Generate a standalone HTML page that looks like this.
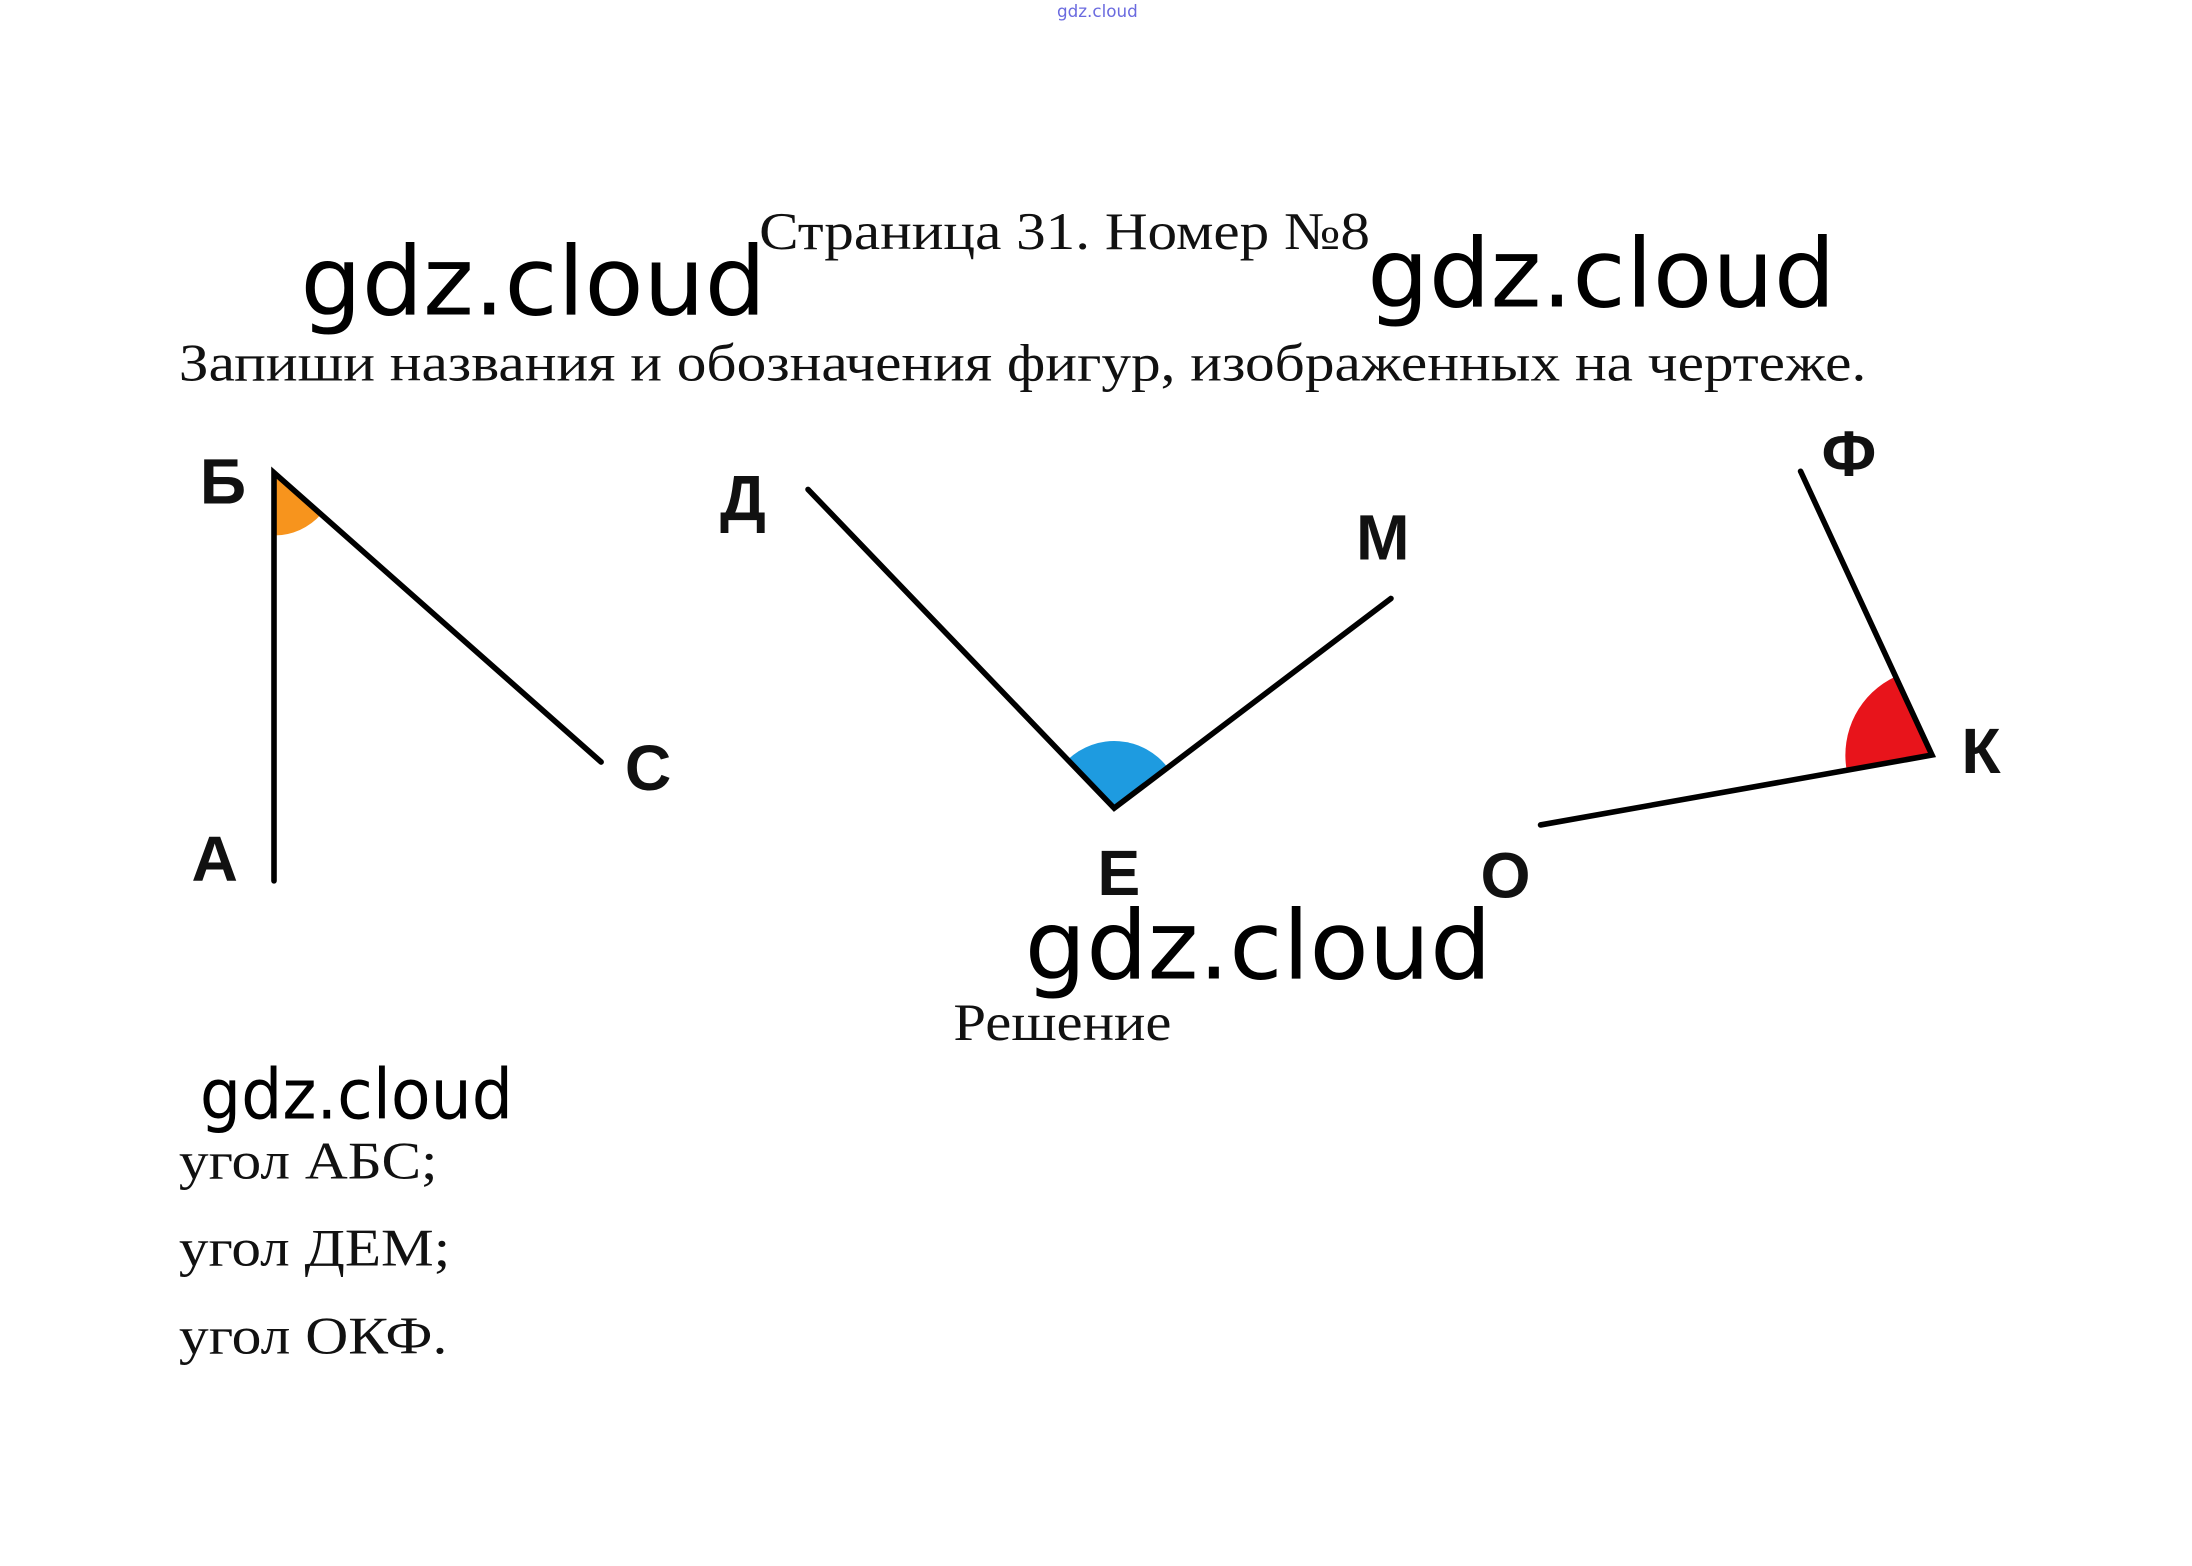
<!DOCTYPE html>
<html><head><meta charset="utf-8"><style>
html,body{margin:0;padding:0;background:#fff;}
svg{display:block;}
.s{font-family:"Liberation Serif",serif;font-size:38px;fill:#111;}
.g{font-family:"DejaVu Sans","Liberation Sans",sans-serif;fill:#000;}
.l{font-family:"Liberation Sans",sans-serif;font-weight:bold;font-size:46px;fill:#111;}
</style></head><body>
<svg width="2192" height="1566" viewBox="0 0 1568 1120" xmlns="http://www.w3.org/2000/svg">
<rect width="1568" height="1120" fill="#fff"/>
<text x="785" y="12" class="g" font-size="12" style="fill:#6a6adf" text-anchor="middle">gdz.cloud</text>
<text x="543" y="178" class="s" textLength="437" lengthAdjust="spacingAndGlyphs">Страница 31. Номер №8</text>
<text x="215" y="225" class="g" font-size="68" textLength="333" lengthAdjust="spacingAndGlyphs">gdz.cloud</text>
<text x="978" y="219" class="g" font-size="68" textLength="335" lengthAdjust="spacingAndGlyphs">gdz.cloud</text>
<text x="128" y="272" class="s" textLength="1207" lengthAdjust="spacingAndGlyphs">Запиши названия и обозначения фигур, изображенных на чертеже.</text>
<path d="M196,338 L229.7,367.8 A45 45 0 0 1 196,383 Z" fill="#f7941d"/>
<path d="M797,578 L763.7,543.4 A48 48 0 0 1 835.3,549 Z" fill="#1e9be0"/>
<path d="M1382,540 L1321,550.9 A62 62 0 0 1 1356,483.8 Z" fill="#e8141b"/>
<g stroke="#000" stroke-width="4" fill="none" stroke-linecap="round">
<polyline points="196,630 196,338 430,545"/>
<polyline points="578,350 797,578 995,428"/>
<polyline points="1288,337 1382,540 1102,590"/>
</g>
<text x="143" y="360" class="l">Б</text>
<text x="515" y="372" class="l">Д</text>
<text x="970" y="400" class="l">М</text>
<text x="447" y="565" class="l">С</text>
<text x="137" y="630" class="l">А</text>
<text x="785" y="640" class="l">Е</text>
<text x="1303" y="340" class="l">Ф</text>
<text x="1403" y="553" class="l">К</text>
<text x="1059" y="642" class="l">О</text>
<text x="733" y="700" class="g" font-size="68" textLength="334" lengthAdjust="spacingAndGlyphs">gdz.cloud</text>
<text x="682" y="744" class="s" textLength="156" lengthAdjust="spacingAndGlyphs">Решение</text>
<text x="143" y="800" class="g" font-size="50" textLength="224" lengthAdjust="spacingAndGlyphs">gdz.cloud</text>
<text x="128" y="843" class="s" textLength="185" lengthAdjust="spacingAndGlyphs">угол АБС;</text>
<text x="128" y="905" class="s" textLength="194" lengthAdjust="spacingAndGlyphs">угол ДЕМ;</text>
<text x="128" y="968" class="s" textLength="192" lengthAdjust="spacingAndGlyphs">угол ОКФ.</text>
</svg>
</body></html>
